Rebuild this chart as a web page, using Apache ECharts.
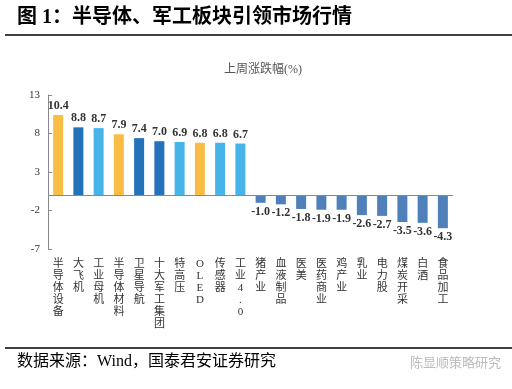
<!DOCTYPE html>
<html><head><meta charset="utf-8">
<script src="https://cdn.jsdelivr.net/npm/echarts@6/dist/echarts.min.js"></script>
<style>html,body{margin:0;padding:0;background:#fff}#c{width:512px;height:389px}</style>
</head><body><div id="c"></div>
<script>
const categories = ['半导体设备','大飞机','工业母机','半导体材料','卫星导航','十大军工集团','特高压','OLED','传感器','工业4.0','猪产业','血液制品','医美','医药商业','鸡产业','乳业','电力股','煤炭开采','白酒','食品加工'];
const values = [10.4,8.8,8.7,7.9,7.4,7.0,6.9,6.8,6.8,6.7,-1.0,-1.2,-1.8,-1.9,-1.9,-2.6,-2.7,-3.5,-3.6,-4.3];
const colorGroups = ['o','d','l','o','d','d','l','o','l','l','n','n','n','n','n','n','n','n','n','n'];
const yTicks = [-7,-2,3,8,13];
const palette = {o:'#F9BD45', d:'#2473BA', l:'#47B4E9', n:'#4F80BA'};
const chart = echarts.init(document.getElementById('c'));
const serif = '"Liberation Serif","Noto Sans CJK SC",serif';
const cjk = '"Liberation Serif","Noto Sans CJK SC",sans-serif';
chart.setOption({
  animation:false,
  title:{text:'上周涨跌幅(%)', left:258, top:59, textAlign:'center',
    textStyle:{fontFamily:cjk, fontSize:12, fontWeight:'normal', color:'#555'}},
  graphic:[
    {type:'text', left:17, top:8, style:{text:'图 1：半导体、军工板块引领市场行情', font:'bold 20px "Liberation Serif","Noto Sans CJK SC"', fill:'#000'}},
    {type:'line', shape:{x1:5,y1:35,x2:512,y2:35}, style:{stroke:'#000', lineWidth:1.5}},
    {type:'line', shape:{x1:5,y1:348,x2:512,y2:348}, style:{stroke:'#000', lineWidth:1.5}},
    {type:'text', left:17, top:354, style:{text:'数据来源：Wind，国泰君安证券研究', font:'16px "Liberation Serif","Noto Sans CJK SC"', fill:'#000'}},
    {type:'text', left:410, top:356, style:{text:'陈显顺策略研究', font:'13px "Noto Sans CJK SC"', fill:'#bbb'}}
  ],
  grid:{left:48, right:59, top:95, bottom:140, containLabel:false},
  xAxis:{type:'category', data:categories,
    axisLine:{show:false, onZero:false}, axisTick:{show:false},
    axisLabel:{interval:0, margin:9, verticalAlign:'top', lineHeight:12, fontSize:11, fontFamily:cjk, color:'#333',
      formatter:v=>v.split('').join('\n')}},
  yAxis:{type:'value', min:yTicks[0], max:yTicks[yTicks.length-1], interval:5,
    splitLine:{show:false},
    axisLine:{show:true, lineStyle:{color:'#888'}},
    axisTick:{show:true, inside:true, length:4, lineStyle:{color:'#888'}},
    axisLabel:{fontSize:11, fontFamily:serif, color:'#333', margin:8}},
  series:[{type:'bar', barWidth:10,
    data:values.map((v,i)=>({value:v, itemStyle:{color:palette[colorGroups[i]]},
      label:{position: v>=0?'top':'bottom'}})),
    label:{show:true, distance:3, fontFamily:serif, fontWeight:'bold', fontSize:12, color:'#333',
      formatter:p=>p.value.toFixed(1)},
    markLine:{silent:true, symbol:'none', label:{show:false},
      lineStyle:{color:'#888', type:'solid', width:1}, data:[{yAxis:0}]}
  }]
});
</script></body></html>
